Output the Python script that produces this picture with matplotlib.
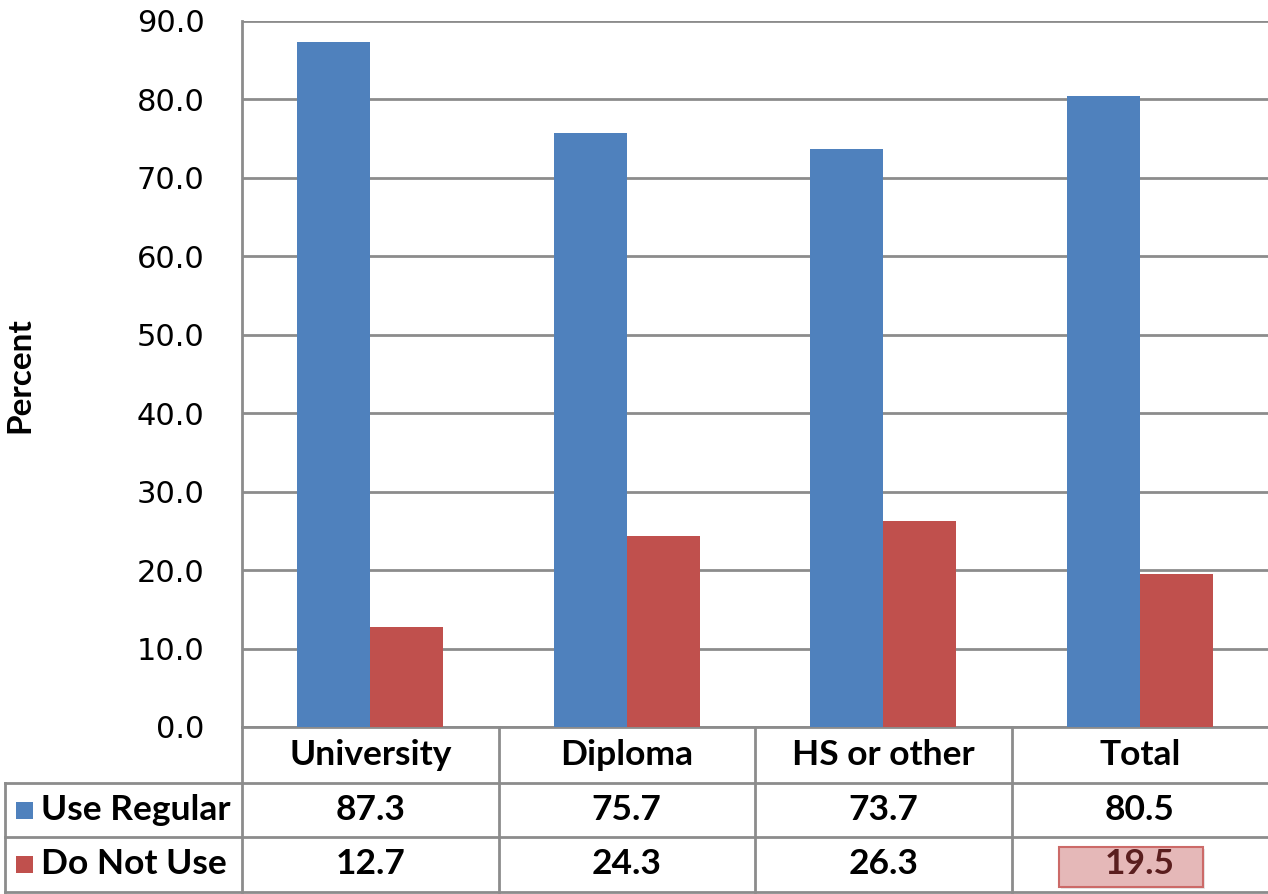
import matplotlib.pyplot as plt
from matplotlib.lines import Line2D
from matplotlib.patches import FancyBboxPatch, Rectangle

categorias = ['University', 'Diploma', 'HS or other', 'Total']
use_regular = [87.3, 75.7, 73.7, 80.5]
do_not_use = [12.7, 24.3, 26.3, 19.5]
series_names = ['Use Regular', 'Do Not Use']
y_ticks = [0, 10, 20, 30, 40, 50, 60, 70, 80, 90]

azul = '#4f81bd'
vermelho = '#c0504d'
cinza = '#8c8c8c'

W, H = 1268, 894
fig = plt.figure(figsize=(W / 100, H / 100), dpi=100)

def px(x0, y0, x1, y1):
    # pixel box (top-left origin) -> figure fraction rect
    return [x0 / W, 1 - y1 / H, (x1 - x0) / W, (y1 - y0) / H]

# main chart
ax = fig.add_axes(px(242, 21, 1268, 727))
n = len(categorias)
x = list(range(n))
bw = 0.285
ax.bar([i - bw / 2 for i in x], use_regular, width=bw, color=azul, zorder=3)
ax.bar([i + bw / 2 for i in x], do_not_use, width=bw, color=vermelho, zorder=3)
ax.set_xlim(-0.5, n - 0.5)
ax.set_ylim(0, 90)
ax.set_yticks(y_ticks)
ax.set_yticklabels([f'{v:.1f}' for v in y_ticks], fontsize=22, family='DejaVu Sans')
ax.tick_params(axis='y', length=0, pad=27)
ax.set_xticks([])
ax.grid(axis='y', color=cinza, linewidth=2, zorder=0)
for s in ['top', 'right']:
    ax.spines[s].set_visible(False)
ax.spines['left'].set_color(cinza)
ax.spines['left'].set_linewidth(2)
ax.spines['bottom'].set_color(cinza)
ax.spines['bottom'].set_linewidth(2)
fig.text(20 / W, 1 - 375 / H, 'Percent', rotation=90, fontsize=24, fontweight='bold',
         family='Lato', ha='center', va='center')

# data table below the chart
tab = fig.add_axes([0, 0, 1, 1])
tab.set_xlim(0, W)
tab.set_ylim(H, 0)
tab.axis('off')
tab.patch.set_alpha(0)

col_w = (1268 - 242) / n
bordas = [242 + i * col_w for i in range(n + 1)]
linhas = [727, 783, 837, 892]
lk = dict(color=cinza, linewidth=2)
for xb in bordas[:-1]:
    tab.add_line(Line2D([xb, xb], [727, 892], **lk))
tab.add_line(Line2D([5, 5], [783, 892], **lk))
for yl in linhas[1:]:
    tab.add_line(Line2D([5, 1268], [yl, yl], **lk))

fs = 25.5
for i, cat in enumerate(categorias):
    cx = (bordas[i] + bordas[i + 1]) / 2
    tab.text(cx, (linhas[0] + linhas[1]) / 2, cat, ha='center', va='center',
             fontsize=fs, fontweight='bold', family='Lato')
    tab.text(cx, (linhas[1] + linhas[2]) / 2, f'{use_regular[i]:.1f}', ha='center', va='center',
             fontsize=fs, fontweight='bold', family='Lato')
    cor = '#5a1e1e' if i == n - 1 else 'black'
    tab.text(cx, (linhas[2] + linhas[3]) / 2, f'{do_not_use[i]:.1f}', ha='center', va='center',
             fontsize=fs, fontweight='bold', family='Lato', color=cor, zorder=5)

# highlighted cell
tab.add_patch(FancyBboxPatch((1061, 849), 144, 40, boxstyle='square,pad=0',
                             facecolor='#d9d9d9', edgecolor='none', alpha=0.6, zorder=3))
tab.add_patch(FancyBboxPatch((1059, 847), 144, 40, boxstyle='square,pad=0',
                             facecolor='#e5b8b8', edgecolor='#cc6a68', linewidth=1.5, zorder=4))

for j, (nome, cor) in enumerate(zip(series_names, [azul, vermelho])):
    yc = (linhas[j + 1] + linhas[j + 2]) / 2
    tab.add_patch(Rectangle((16, yc - 8.5), 17, 17, facecolor=cor, edgecolor='none'))
    tab.text(41, yc, nome, ha='left', va='center', fontsize=fs, fontweight='bold', family='Lato')

fig.savefig('out.png', dpi=100)
